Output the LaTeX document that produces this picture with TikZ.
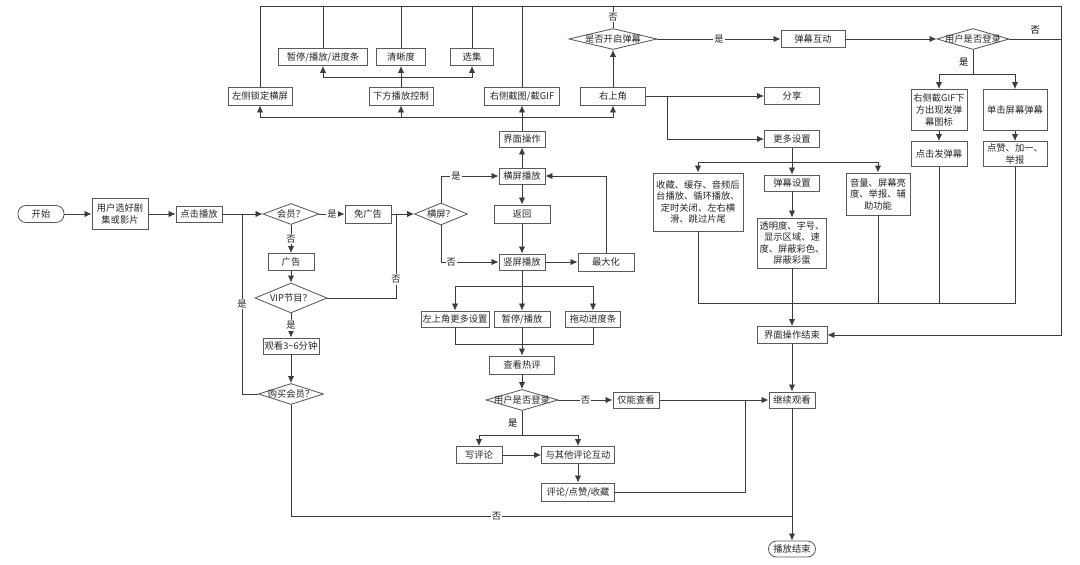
\documentclass[tikz,border=0pt]{standalone}
\usepackage{fontspec}
\setmainfont{Noto Sans CJK SC}
\usetikzlibrary{shapes.geometric, arrows.meta, positioning, calc}
\definecolor{linegray}{RGB}{60,60,60}
\definecolor{boxgray}{RGB}{90,90,90}
\newcommand{\decisiontext}[1]{\makebox[0pt]{#1}}

\begin{document}
\begin{tikzpicture}[
    x=0.025cm, y=-0.025cm,
    font=\fontsize{6.6}{8.2}\selectfont,
    box/.style={rectangle, draw=boxgray, line width=0.6pt, fill=white, inner sep=1pt,
                minimum height=0.4cm, align=center, text=black!85},
    term/.style={box, rounded corners=0.2cm},
    decision/.style={diamond, draw=boxgray, line width=0.6pt, fill=white, inner sep=0pt, text=black!85},
    conn/.style={draw=linegray, line width=0.6pt},
    flow/.style={conn, -{Latex[length=5pt, width=4.5pt]}},
    lbl/.style={fill=white, inner sep=0.8pt, text=black!85}
]
    \useasboundingbox (0,0) rectangle (1080,565);

    % main line
    \node[term, minimum width=1.15cm, minimum height=0.425cm] (start) at (41,214) {开始};
    \node[box, minimum width=1.4cm, minimum height=0.775cm] (choose) at (120,214) {用户选好剧\\集或影片};
    \node[box, minimum width=1.15cm] (click) at (199,214) {点击播放};
    \node[decision, minimum width=1.4cm, minimum height=0.525cm] (member) at (291,214) {\decisiontext{会员？}};
    \node[box, minimum width=1.15cm, minimum height=0.45cm] (noad) at (368,214) {免广告};
    \node[box, minimum width=1.15cm, minimum height=0.425cm] (ad) at (291,262) {广告};
    \node[decision, minimum width=1.8cm, minimum height=0.75cm] (vip) at (291,298) {\decisiontext{VIP节目？}};
    \node[box, minimum width=1.4cm] (watch) at (291,346) {观看3\textasciitilde 6分钟};
    \node[decision, minimum width=1.625cm, minimum height=0.525cm] (buy) at (291,394) {\decisiontext{购买会员？}};

    % screen branch
    \node[decision, minimum width=1.325cm, minimum height=0.55cm] (orient) at (441,214) {\decisiontext{横屏？}};
    \node[box, minimum width=1.15cm] (land) at (522,176) {横屏播放};
    \node[box, minimum width=1.4cm, minimum height=0.45cm] (back) at (522,214) {返回};
    \node[box, minimum width=1.15cm] (port) at (522,262) {竖屏播放};
    \node[box, minimum width=1.4cm, minimum height=0.45cm] (maxi) at (606,262) {最大化};
    \node[box, minimum width=1.7cm] (moreleft) at (455,319) {左上角更多设置};
    \node[box, minimum width=1.4cm] (pauseplay) at (522,319) {暂停/播放};
    \node[box, minimum width=1.375cm] (drag) at (593,319) {拖动进度条};
    \node[box, minimum width=1.625cm, minimum height=0.45cm] (hot) at (522,365) {查看热评};
    \node[decision, minimum width=1.8cm, minimum height=0.525cm] (login2) at (522,400) {\decisiontext{用户是否登录}};
    \node[box, minimum width=1.15cm] (viewonly) at (636,400) {仅能查看};
    \node[box, minimum width=1.15cm, minimum height=0.425cm] (write) at (479,455) {写评论};
    \node[box, minimum width=1.825cm, minimum height=0.425cm] (interact) at (578,455) {与其他评论互动};
    \node[box, minimum width=1.825cm, minimum height=0.45cm] (comment) at (578,492) {评论/点赞/收藏};
    \node[box, minimum width=1.15cm] (cont) at (792,400) {继续观看};
    \node[term, minimum width=1.175cm] (stop) at (792,549) {播放结束};

    % interface operations
    \node[box, minimum width=1.15cm] (uiop) at (522,139) {界面操作};
    \node[box, minimum width=1.6cm, minimum height=0.45cm] (lock) at (260,96) {左侧锁定横屏};
    \node[box, minimum width=1.6cm, minimum height=0.45cm] (bottomctl) at (401,96) {下方播放控制};
    \node[box, minimum width=1.875cm, minimum height=0.45cm] (shot) at (522,96) {右侧截图/截GIF};
    \node[box, minimum width=1.625cm, minimum height=0.45cm] (corner) at (613,96) {右上角};
    \node[box, minimum width=2.225cm, minimum height=0.425cm] (pausebar) at (323,57) {暂停/播放/进度条};
    \node[box, minimum width=1.225cm, minimum height=0.425cm] (clarity) at (401,57) {清晰度};
    \node[box, minimum width=1.075cm, minimum height=0.425cm] (episode) at (472,57) {选集};
    \node[decision, minimum width=2.2cm, minimum height=0.525cm] (dmon) at (613,39) {\decisiontext{是否开启弹幕}};
    \node[box, minimum width=1.6cm, minimum height=0.425cm] (dmact) at (813,39) {弹幕互动};
    \node[decision, minimum width=1.8cm, minimum height=0.525cm] (login1) at (973,39) {\decisiontext{用户是否登录}};
    \node[box, minimum width=1.4cm, minimum height=1.025cm] (gifbtn) at (939,110) {右侧截GIF下\\方出现发弹\\幕图标};
    \node[box, minimum width=1.6cm, minimum height=1.025cm] (tapdm) at (1015,110) {单击屏幕弹幕};
    \node[box, minimum width=1.4cm, minimum height=0.625cm] (senddm) at (939,154) {点击发弹幕};
    \node[box, minimum width=1.6cm, minimum height=0.625cm] (like) at (1015,154) {点赞、加一、\\举报};
    \node[box, minimum width=1.375cm, minimum height=0.425cm] (share) at (792,96) {分享};
    \node[box, minimum width=1.375cm, minimum height=0.425cm] (more) at (792,139) {更多设置};
    \node[box, minimum width=2.25cm, minimum height=1.45cm] (collect) at (698,202) {收藏、缓存、音频后\\台播放、循环播放、\\定时关闭、左右横\\滑、跳过片尾};
    \node[box, minimum width=1.375cm] (dmset) at (792,183) {弹幕设置};
    \node[box, minimum width=1.725cm, minimum height=1.25cm] (dmopt) at (792,243) {透明度、字号、\\显示区域、速\\度、屏蔽彩色、\\屏蔽彩蛋};
    \node[box, minimum width=1.6cm, minimum height=1.05cm] (volume) at (878,194) {音量、屏幕亮\\度、举报、辅\\助功能};
    \node[box, minimum width=1.75cm, minimum height=0.425cm] (uiend) at (792,335) {界面操作结束};

    % junctions
    \coordinate (topR) at (1061,6);
    \coordinate (jClick) at (242,214);
    \coordinate (jOrient) at (396,214);
    \coordinate (jUi) at (522,117);
    \coordinate (jCtl) at (401,77);
    \coordinate (jCorner) at (667,96);
    \coordinate (jMore) at (792,162);
    \coordinate (jLogin1) at (973,74);
    \coordinate (jSet) at (792,303);
    \coordinate (jPort) at (522,286);
    \coordinate (jTool) at (522,344);
    \coordinate (jLogin2) at (522,435);
    \coordinate (jCont) at (745,400);
    \coordinate (jStop) at (792,516);

    % member check
    \draw[flow] (start) -- (choose);
    \draw[flow] (choose) -- (click);
    \draw[flow] (click) -- (member);
    \draw[flow] (member) -- node[lbl] {是} (noad);
    \draw[flow] (member) -- node[lbl] {否} (ad);
    \draw[flow] (ad) -- (vip);
    \draw[conn] (vip.east) -| node[lbl, pos=0.61] {否} (jOrient);
    \draw[flow] (vip) -- node[lbl] {是} (watch);
    \draw[flow] (watch) -- (buy);
    \draw[conn] (buy.west) -| node[lbl, pos=0.75] {是} (jClick);
    \draw[conn] (buy.south) |- node[lbl, pos=0.705] {否} (jStop);

    % playing
    \draw[flow] (noad) -- (orient);
    \draw[flow] (orient.north) |- node[lbl, pos=0.63] {是} (land.west);
    \draw[flow] (orient.south) |- node[lbl, pos=0.59] {否} (port.west);
    \draw[flow] (land) -- (back);
    \draw[flow] (back) -- (port);
    \draw[flow] (port) -- (maxi);
    \draw[flow] (maxi.north) |- (land.east);
    \draw[flow] (port) -- (pauseplay);
    \draw[flow] (jPort) -| (moreleft.north);
    \draw[flow] (jPort) -| (drag.north);
    \draw[conn] (moreleft.south) |- (jTool);
    \draw[conn] (drag.south) |- (jTool);
    \draw[flow] (pauseplay) -- (hot);
    \draw[flow] (hot) -- (login2);
    \draw[flow] (login2) -- node[lbl] {否} (viewonly);
    \draw[flow] (viewonly) -- (cont);
    \draw[conn] (login2) -- node[left, inner sep=3pt] {是} (jLogin2);
    \draw[flow] (jLogin2) -| (write.north);
    \draw[flow] (jLogin2) -| (interact.north);
    \draw[flow] (write) -- (interact);
    \draw[flow] (interact) -- (comment);
    \draw[conn] (comment.east) -| (jCont);
    \draw[flow] (uiend) -- (cont);
    \draw[flow] (cont) -- (stop);

    % interface
    \draw[flow] (land) -- (uiop);
    \draw[flow] (uiop) -- (shot);
    \draw[flow] (jUi) -| (lock.south);
    \draw[flow] (jUi) -| (bottomctl.south);
    \draw[flow] (jUi) -| (corner.south);
    \draw[flow] (bottomctl) -- (clarity);
    \draw[flow] (jCtl) -| (pausebar.south);
    \draw[flow] (jCtl) -| (episode.south);
    \draw[conn] (lock.north) |- (topR);
    \draw[conn] (pausebar.north) -- (pausebar.north |- topR);
    \draw[conn] (clarity.north) -- (clarity.north |- topR);
    \draw[conn] (episode.north) -- (episode.north |- topR);
    \draw[conn] (shot.north) -- (shot.north |- topR);
    \draw[flow] (topR) |- (uiend.east);

    % danmaku
    \draw[flow] (corner) -- (dmon);
    \draw[conn] (dmon.north) -- node[lbl] {否} (dmon.north |- topR);
    \draw[flow] (dmon) -- node[lbl] {是} (dmact);
    \draw[flow] (dmact) -- (login1);
    \draw[conn] (login1.east) -- node[above, inner sep=3pt] {否} (login1.east -| topR);
    \draw[conn] (login1) -- node[left, inner sep=3pt] {是} (jLogin1);
    \draw[flow] (jLogin1) -| (gifbtn.north);
    \draw[flow] (jLogin1) -| (tapdm.north);
    \draw[flow] (gifbtn) -- (senddm);
    \draw[flow] (tapdm) -- (like);

    % settings
    \draw[flow] (corner) -- (share);
    \draw[flow] (jCorner) |- (more.west);
    \draw[flow] (more) -- (dmset);
    \draw[flow] (jMore) -| (collect.north);
    \draw[flow] (jMore) -| (volume.north);
    \draw[flow] (dmset) -- (dmopt);
    \draw[flow] (dmopt) -- (uiend);
    \draw[conn] (collect.south) |- (jSet);
    \draw[conn] (like.south) |- (jSet);
    \draw[conn] (volume.south) -- (volume.south |- jSet);
    \draw[conn] (senddm.south) -- (senddm.south |- jSet);
\end{tikzpicture}
\end{document}
